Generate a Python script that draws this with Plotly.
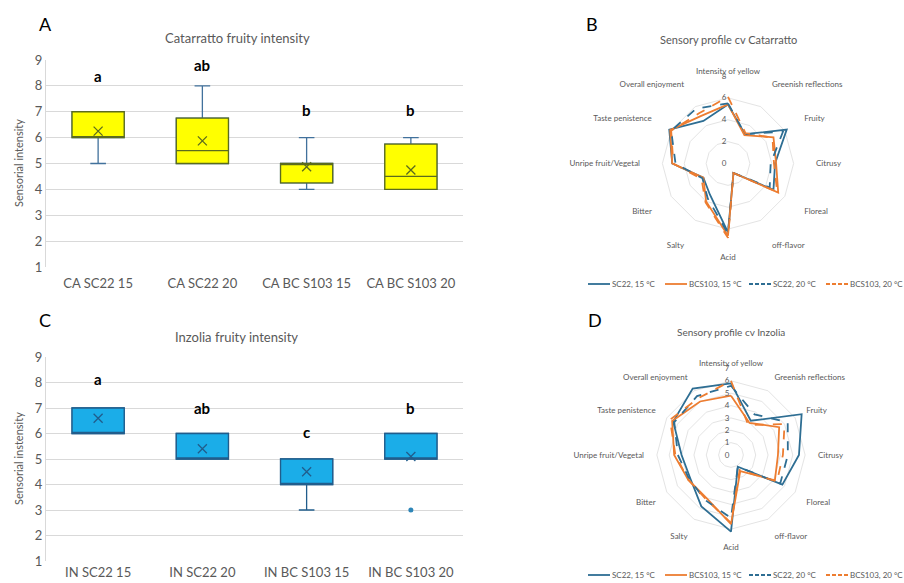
import plotly.graph_objects as go

# ---------------- data ----------------
ca_cats = ["CA SC22 15", "CA SC22 20", "CA BC S103 15", "CA BC S103 20"]
ca_q1 = [6, 5, 4.25, 4]
ca_median = [6, 5.5, 5, 4.5]
ca_q3 = [7, 6.75, 5, 5.75]
ca_low = [5, 5, 4, 4]
ca_high = [7, 8, 6, 6]
ca_mean = [6.25, 5.875, 4.875, 4.75]
ca_letters = ["a", "ab", "b", "b"]
ca_letter_y = [8.4, 8.8, 7.05, 7.05]

in_cats = ["IN SC22 15", "IN SC22 20", "IN BC S103 15", "IN BC S103 20"]
in_q1 = [6, 5, 4, 5]
in_median = [6, 5, 4, 5]
in_q3 = [7, 6, 5, 6]
in_low = [6, 5, 3, 5]
in_high = [7, 6, 5, 6]
in_mean = [6.6, 5.4, 4.5, 5.1]
in_outlier_x = ["IN BC S103 20"]
in_outlier_y = [3]
in_letters = ["a", "ab", "c", "b"]
in_letter_y = [8.15, 7.0, 6.05, 7.0]

attributes = ["Intensity of yellow", "Greenish reflections", "Fruity", "Citrusy",
              "Floreal", "off-flavor", "Acid", "Salty", "Bitter",
              "Unripe fruit/Vegetal", "Taste penistence", "Overall enjoyment"]
series_names = ["SC22, 15 °C", "BCS103, 15 °C", "SC22, 20 °C", "BCS103, 20 °C"]

ca_sc22_15 = [5.4, 3.1, 6.2, 4.3, 4.8, 1.0, 6.3, 3.3, 2.6, 5.1, 6.2, 4.5]
ca_bcs_15 = [5.4, 3.0, 4.8, 4.4, 5.3, 1.0, 6.6, 4.0, 2.6, 5.1, 6.1, 5.0]
ca_sc22_20 = [5.5, 3.1, 5.8, 3.9, 4.4, 1.0, 6.4, 3.7, 2.7, 4.8, 6.0, 5.8]
ca_bcs_20 = [6.1, 3.2, 4.7, 4.2, 5.2, 1.0, 6.8, 4.1, 2.8, 5.0, 6.0, 5.3]

in_sc22_15 = [5.8, 3.2, 6.6, 5.5, 4.8, 1.1, 6.2, 4.8, 3.8, 4.0, 5.4, 6.2]
in_bcs_15 = [4.8, 3.0, 4.5, 3.8, 4.1, 1.5, 5.6, 4.0, 4.0, 4.6, 5.5, 5.0]
in_sc22_20 = [5.6, 3.8, 5.3, 4.6, 4.6, 1.1, 5.1, 4.2, 3.9, 4.3, 5.3, 5.5]
in_bcs_20 = [6.0, 2.8, 5.0, 4.2, 4.3, 1.4, 5.5, 4.1, 4.0, 4.5, 5.7, 5.3]

# ---------------- styles ----------------
FONT = "Lato"
GRAY = "#595959"
BLUE = "#2E6E93"
ORANGE = "#ED7D31"
line_styles = [(BLUE, "solid"), (ORANGE, "solid"), (BLUE, "dash"), (ORANGE, "dash")]

W, H = 904, 583
fig = go.Figure()

def add_box_panel(cats, q1, med, q3, lo, hi, mean, fill, border, whisk, xa, ya):
    fig.add_trace(go.Box(x=cats, q1=q1, median=med, q3=q3, lowerfence=lo, upperfence=hi,
                         fillcolor=fill, line=dict(color=whisk, width=1.3),
                         width=0.5, whiskerwidth=0.3, boxpoints=False,
                         showlegend=False, hoverinfo="skip", xaxis=xa, yaxis=ya))
    fig.add_trace(go.Box(x=cats, q1=q1, median=med, q3=q3, lowerfence=q1, upperfence=q3,
                         fillcolor=fill, line=dict(color=border, width=1.3),
                         width=0.5, whiskerwidth=0, boxpoints=False,
                         showlegend=False, hoverinfo="skip", xaxis=xa, yaxis=ya))
    fig.add_trace(go.Scatter(x=cats, y=mean, mode="markers",
                             marker=dict(symbol="x-thin-open", size=9, color=border,
                                         line=dict(color=border, width=1.3)),
                             showlegend=False, hoverinfo="skip", xaxis=xa, yaxis=ya))

add_box_panel(ca_cats, ca_q1, ca_median, ca_q3, ca_low, ca_high, ca_mean,
              "#FFFF00", "#5B6B1E", "#41719C", "x", "y")
add_box_panel(in_cats, in_q1, in_median, in_q3, in_low, in_high, in_mean,
              "#1BADE8", "#215D8C", "#215D8C", "x2", "y2")
fig.add_trace(go.Scatter(x=in_outlier_x, y=in_outlier_y, mode="markers",
                         marker=dict(size=5, color="#2E86B8"),
                         showlegend=False, hoverinfo="skip", xaxis="x2", yaxis="y2"))

ca_series = [ca_sc22_15, ca_bcs_15, ca_sc22_20, ca_bcs_20]
in_series = [in_sc22_15, in_bcs_15, in_sc22_20, in_bcs_20]
for name, vals, (col, dash) in zip(series_names, ca_series, line_styles):
    fig.add_trace(go.Scatterpolar(r=vals + vals[:1], theta=attributes + attributes[:1],
                                  mode="lines", name=name, line=dict(color=col, dash=dash, width=1.8),
                                  subplot="polar", showlegend=False))
for name, vals, (col, dash) in zip(series_names, in_series, line_styles):
    fig.add_trace(go.Scatterpolar(r=vals + vals[:1], theta=attributes + attributes[:1],
                                  mode="lines", name=name, line=dict(color=col, dash=dash, width=1.8),
                                  subplot="polar2", showlegend=False))

xd = [46 / W, 463 / W]
common_x = dict(domain=xd, type="category", range=[-0.5, 3.5], showgrid=False, automargin=False,
                showline=False, ticks="", tickfont=dict(family=FONT, size=13, color=GRAY))
common_y = dict(range=[1, 9], dtick=1, showgrid=True, gridcolor="#D9D9D9", gridwidth=1,
                zeroline=False, showline=True, linecolor="#D9D9D9", ticks="", automargin=False,
                tickfont=dict(family=FONT, size=13, color=GRAY))

polar_common = dict(
    gridshape="linear", bgcolor="white",
    angularaxis=dict(direction="clockwise", rotation=90, showline=False, showgrid=False,
                     ticks="", tickfont=dict(family=FONT, size=8, color=GRAY)),
)

annotations = []
shapes = []
for c, t, yv in zip(ca_cats, ca_letters, ca_letter_y):
    annotations.append(dict(x=c, y=yv, xref="x", yref="y", text=f"<b>{t}</b>", showarrow=False,
                            font=dict(family=FONT, size=15, color="black")))
for c, t, yv in zip(in_cats, in_letters, in_letter_y):
    annotations.append(dict(x=c, y=yv, xref="x2", yref="y2", text=f"<b>{t}</b>", showarrow=False,
                            font=dict(family=FONT, size=15, color="black")))

def txt(text, x, y, size, color=GRAY, angle=0, anchor="center"):
    annotations.append(dict(x=x / W, y=1 - y / H, xref="paper", yref="paper", text=text,
                            showarrow=False, textangle=angle, xanchor=anchor, yanchor="middle",
                            font=dict(family=FONT, size=size, color=color)))

txt("A", 45, 24, 18, "black")
txt("B", 592, 24, 18, "black")
txt("C", 45, 320, 18, "black")
txt("D", 595, 320, 18, "black")
txt("Catarratto fruity intensity", 237, 38, 13)
txt("Inzolia fruity intensity", 236, 337, 13)
txt("Sensory profile cv Catarratto", 728, 40, 11)
txt("Sensory profile cv Inzolia", 731, 332, 10)
txt("Sensorial intensity", 18, 163, 11, angle=-90)
txt("Sensorial instensity", 18, 459, 11, angle=-90)

# custom legends (keys drawn as paper shapes, labels as text)
legend_x = [588, 665, 749, 826]
def draw_legend(ypix):
    for name, (col, dash), x0 in zip(series_names, line_styles, legend_x):
        shapes.append(dict(type="line", xref="paper", yref="paper",
                           x0=x0 / W, x1=(x0 + 22) / W, y0=1 - ypix / H, y1=1 - ypix / H,
                           line=dict(color=col, width=1.8, dash="4px,2px" if dash == "dash" else "solid")))
        txt(name, x0 + 22, ypix, 8, anchor="left")

draw_legend(284)
draw_legend(575)

fig.update_layout(
    width=W, height=H, margin=dict(l=0, r=0, t=0, b=0, autoexpand=False),
    paper_bgcolor="white", plot_bgcolor="white", boxmode="overlay", showlegend=False,
    xaxis=dict(common_x, anchor="y", ticklabelstandoff=7),
    yaxis=dict(common_y, domain=[1 - 267 / H, 1 - 60 / H], anchor="x"),
    xaxis2=dict(common_x, anchor="y2", ticklabelstandoff=2),
    yaxis2=dict(common_y, domain=[1 - 561 / H, 1 - 357 / H], anchor="x2"),
    polar=dict(polar_common, domain=dict(x=[640.5 / W, 815.5 / W], y=[1 - 251 / H, 1 - 76 / H]),
               radialaxis=dict(range=[0, 8], dtick=2, angle=90, tickangle=90, showline=False,
                               gridcolor="#E4E4E4", ticks="", side="counterclockwise",
                               tickfont=dict(family=FONT, size=8, color=GRAY))),
    polar2=dict(polar_common, domain=dict(x=[644.5 / W, 817.5 / W], y=[1 - 541.5 / H, 1 - 368.5 / H]),
                radialaxis=dict(range=[0, 7], dtick=1, angle=90, tickangle=90, showline=False,
                                gridcolor="#E4E4E4", ticks="", side="counterclockwise",
                                tickfont=dict(family=FONT, size=8, color=GRAY))),
    annotations=annotations,
    shapes=shapes,
)

fig.write_html("out.html")
